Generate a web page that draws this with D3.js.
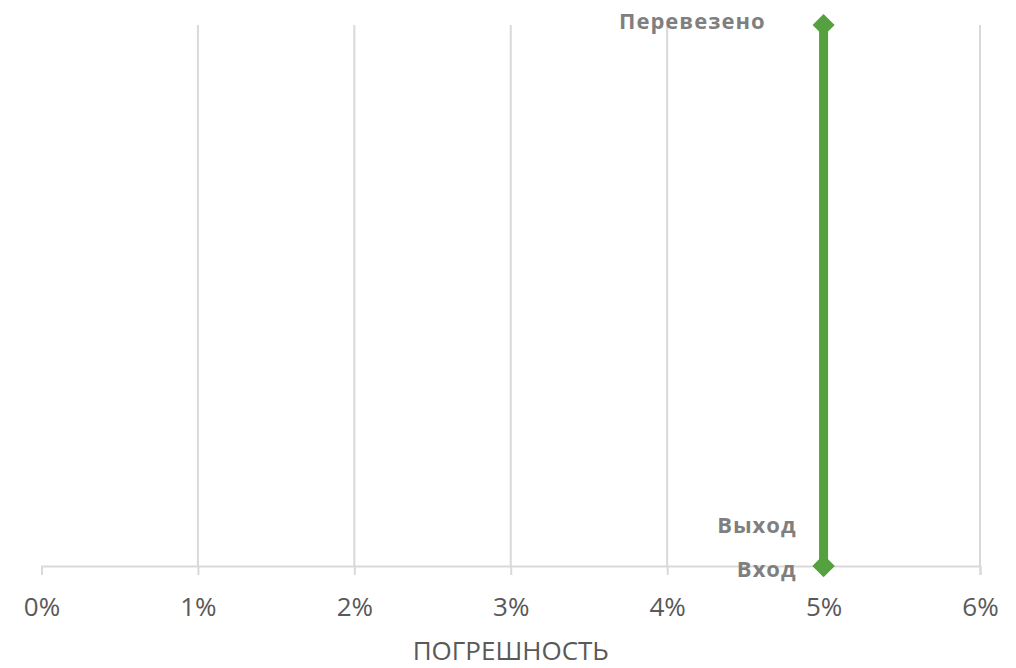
<!DOCTYPE html>
<html>
<head>
<meta charset="utf-8">
<script src="https://cdn.jsdelivr.net/npm/d3@7"></script>
<style>
  body { margin: 0; background: #fff; }
  svg { display: block; }
</style>
</head>
<body>
<div id="chart"></div>
<script>
// points of the chart (error share, vertical position)
const stages = ['Вход', 'Выход', 'Перевезено'];
const errors = [0.05, 0.05, 0.05];
const levels = [0, 0, 1];
const xTicks = [0, 0.01, 0.02, 0.03, 0.04, 0.05, 0.06];
const xTitle = 'ПОГРЕШНОСТЬ';

const W = 1016, H = 668;
const margin = {top: 25, left: 41.5, right: 36, bottom: 102};
const font = '"Open Sans", sans-serif';

const svg = d3.select('#chart').append('svg')
    .attr('width', W)
    .attr('height', H);

const x = d3.scaleLinear()
    .domain([0, 0.06])
    .range([margin.left, W - margin.right]);
const y = d3.scaleLinear()
    .domain([0, 1])
    .range([H - margin.bottom, margin.top]);

const data = stages.map((s, i) => ({stage: s, err: errors[i], lvl: levels[i]}));

// vertical gridlines
svg.append('g')
  .selectAll('line')
  .data(xTicks.slice(1))
  .enter().append('line')
    .attr('x1', d => x(d)).attr('x2', d => x(d))
    .attr('y1', y(1)).attr('y2', y(0))
    .attr('stroke', '#d9d9d9')
    .attr('stroke-width', 2);

// x axis
const xAxis = d3.axisBottom(x)
    .tickValues(xTicks)
    .tickFormat(d => Math.round(d * 100) + '%')
    .tickSize(9)
    .tickPadding(23);

const gx = svg.append('g')
    .attr('transform', `translate(0,${y(0)})`)
    .call(xAxis);
gx.select('.domain').attr('stroke', '#d9d9d9').attr('stroke-width', 2);
gx.selectAll('.tick line').attr('stroke', '#d9d9d9').attr('stroke-width', 2);
gx.selectAll('.tick text')
    .attr('fill', '#595959')
    .style('font-family', font)
    .style('font-size', '26px');

svg.append('text')
    .attr('x', (x(0) + x(0.06)) / 2)
    .attr('y', 660)
    .attr('text-anchor', 'middle')
    .attr('fill', '#595959')
    .style('font-family', font)
    .style('font-size', '26px')
    .text(xTitle);

// series line
const line = d3.line()
    .x(d => x(d.err))
    .y(d => y(d.lvl));

svg.append('path')
    .datum(data)
    .attr('d', line)
    .attr('fill', 'none')
    .attr('stroke', '#55a03f')
    .attr('stroke-width', 9);

// markers
svg.selectAll('.marker')
  .data(data)
  .enter().append('path')
    .attr('class', 'marker')
    .attr('d', d3.symbol().type(d3.symbolDiamond2).size(310))
    .attr('transform', d => `translate(${x(d.err)},${y(d.lvl)})`)
    .attr('fill', '#55a03f');

// labels
const labelOffsets = {'Вход': [-27, 11], 'Выход': [-27, -33], 'Перевезено': [-58, 4]};
svg.selectAll('.lbl')
  .data(data)
  .enter().append('text')
    .attr('class', 'lbl')
    .attr('x', d => x(d.err) + labelOffsets[d.stage][0])
    .attr('y', d => y(d.lvl) + labelOffsets[d.stage][1])
    .attr('text-anchor', 'end')
    .attr('fill', '#7f7f7f')
    .style('font-family', font)
    .style('font-weight', 'bold')
    .style('font-size', '22px')
    .style('letter-spacing', '1px')
    .text(d => d.stage);
</script>
</body>
</html>
